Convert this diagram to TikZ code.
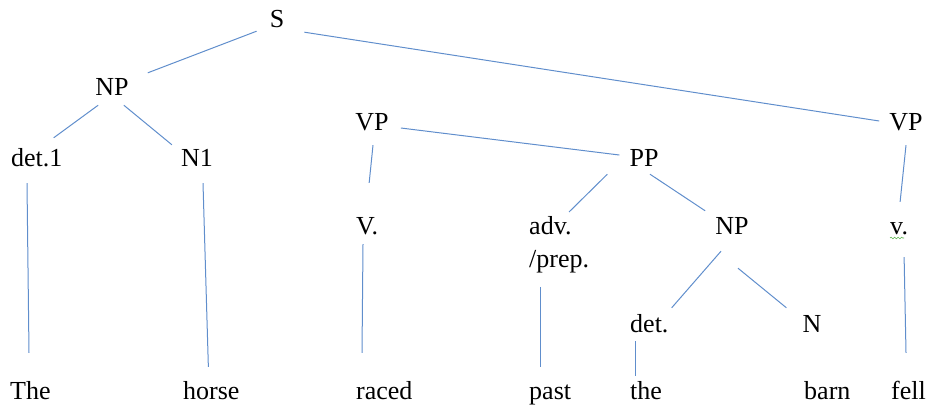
\documentclass[tikz,border=0pt]{standalone}
\usepackage{fontspec}
\setmainfont{Liberation Serif}
\usetikzlibrary{decorations.pathmorphing}
\definecolor{branchblue}{RGB}{96,142,204}
\definecolor{spellgreen}{RGB}{92,178,76}
\begin{document}
\begin{tikzpicture}[x=1pt,y=-1pt,
        font=\fontsize{26}{33}\selectfont,
        cat/.style={inner sep=0pt,text height=18pt,text depth=6pt,anchor=base},
        word/.style={inner sep=0pt,text height=18pt,text depth=6pt,anchor=base west},
        branch/.style={draw=branchblue,line width=1pt}]
        \useasboundingbox (0,0) rectangle (928,408);
        \node[cat] (S) at (277,27) {S};
        \node[cat] (NPa) at (112,95) {NP};
        \node[word] (det1) at (11,166) {det.1};
        \node[cat] (N1) at (197,166) {N1};
        \node[cat] (VPa) at (372,130) {VP};
        \node[cat] (VPb) at (906,130) {VP};
        \node[cat] (PP) at (644,166) {PP};
        \node[word] (Va) at (356,234) {V.};
        \node[inner sep=0pt,align=left,anchor=north west] (adv) at (529,216) {adv.\\/prep.};
        \node[cat] (NPb) at (732,234) {NP};
        \node[word] (vb) at (890,234) {v.};
        \node[word] (det2) at (630,332) {det.};
        \node[cat] (Nb) at (812,332) {N};
        \node[word] (The) at (10,399) {The};
        \node[word] (horse) at (183,399) {horse};
        \node[word] (raced) at (356,399) {raced};
        \node[word] (past) at (529,399) {past};
        \node[word] (the) at (630,399) {the};
        \node[word] (barn) at (804,399) {barn};
        \node[word] (fell) at (891,399) {fell};
        \draw[branch] ([xshift=-13pt,yshift=2pt]S.south west) -- ([xshift=19pt,yshift=4pt]NPa.north east);
        \draw[branch] ([xshift=20pt,yshift=1pt]S.south east) -- ([xshift=-10pt,yshift=3pt]VPb.west);
        \draw[branch] ([xshift=3pt,yshift=-4pt]NPa.south west) -- ([xshift=-9pt,yshift=10pt]det1.north east);
        \draw[branch] ([xshift=-5pt,yshift=-4pt]NPa.south east) -- ([xshift=-9pt,yshift=3pt]N1.north west);
        \draw[branch] ([xshift=1pt,yshift=-9pt]VPa.south) -- ([xshift=2pt,yshift=33pt]Va.north);
        \draw[branch] ([xshift=12pt,yshift=-4pt]VPa.east) -- ([xshift=-10pt,yshift=5pt]PP.west);
        \draw[branch] ([xshift=-22pt,yshift=-2pt]PP.south west) -- ([xshift=40pt,yshift=4pt]adv.north west);
        \draw[branch] ([xshift=6pt,yshift=-2pt]PP.south) -- ([xshift=-10pt,yshift=5pt]NPb.north west);
        \draw[branch] ([yshift=-9pt]VPb.south) -- ([xshift=1pt,yshift=14pt]vb.north);
        \draw[branch] ([xshift=-11pt,yshift=-11pt]NPb.south) -- ([xshift=3pt,yshift=6pt]det2.north east);
        \draw[branch] ([xshift=6pt,yshift=-28pt]NPb.south) -- ([xshift=-16pt,yshift=6pt]Nb.north west);
        \draw[branch] ([xshift=16pt,yshift=-11pt]det1.south west) -- ([xshift=19pt,yshift=28pt]The.north west);
        \draw[branch] ([xshift=6pt,yshift=-11pt]N1.south) -- ([xshift=-3pt,yshift=14pt]horse.north);
        \draw[branch] ([xshift=7pt,yshift=-4pt]Va.south west) -- ([xshift=6pt,yshift=28pt]raced.north west);
        \draw[branch] ([xshift=11pt,yshift=-14pt]adv.south west) -- ([xshift=11pt,yshift=14pt]past.north west);
        \draw[branch] ([xshift=5pt,yshift=-3pt]det2.south west) -- ([xshift=5pt,yshift=5pt]the.north west);
        \draw[branch] ([xshift=5pt,yshift=-17pt]vb.south) -- ([xshift=15pt,yshift=28pt]fell.north west);
        \draw[spellgreen,line width=0.6pt,decorate,decoration={snake,amplitude=0.8pt,segment length=3.5pt}] ([yshift=-4pt]vb.base west) -- ([xshift=-4pt,yshift=-4pt]vb.base east);
    \end{tikzpicture}
\end{document}
